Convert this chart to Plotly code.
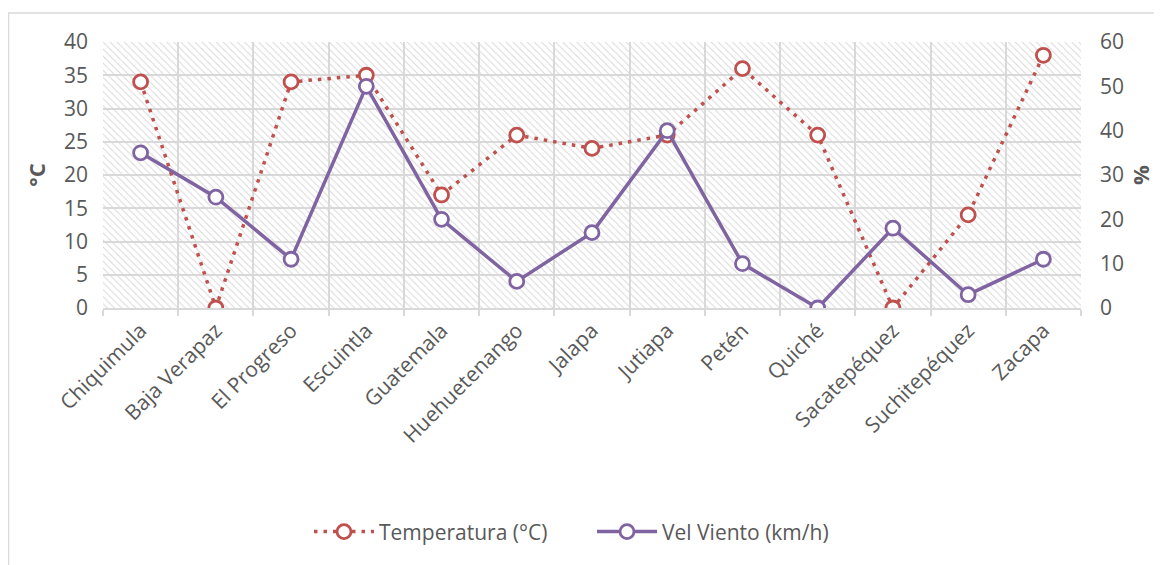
import plotly.graph_objects as go

departamentos = ["Chiquimula", "Baja Verapaz", "El Progreso", "Escuintla", "Guatemala",
                 "Huehuetenango", "Jalapa", "Jutiapa", "Petén", "Quiché",
                 "Sacatepéquez", "Suchitepéquez", "Zacapa"]
temperatura = [34, 0, 34, 35, 17, 26, 24, 26, 36, 26, 0, 14, 38]
vel_viento = [35, 25, 11, 50, 20, 6, 17, 40, 10, 0, 18, 3, 11]

y_left_max = 40
y_right_max = 60

RED = "#C0504D"
PURPLE = "#8064A2"
GRID = "#D9D9D9"
TXT = "#595959"
FONT = "Open Sans"
FS = 21

fig = go.Figure()

# hatched plot-area background
fig.add_trace(go.Bar(
    x=[departamentos[len(departamentos) // 2]], y=[y_left_max], width=len(departamentos),
    marker=dict(color="rgba(0,0,0,0)", line=dict(width=0),
                pattern=dict(shape="\\", fgcolor="#D6D6D6", bgcolor="rgba(0,0,0,0)",
                             size=5, solidity=0.18, fillmode="replace")),
    showlegend=False, hoverinfo="skip", yaxis="y"))

fig.add_trace(go.Scatter(
    x=departamentos, y=temperatura, name="Temperatura (°C)", mode="lines+markers",
    line=dict(color=RED, width=3.5, dash="3.5px,6px"),
    marker=dict(symbol="circle", size=14, color="white", line=dict(color=RED, width=2.8)),
    yaxis="y"))

fig.add_trace(go.Scatter(
    x=departamentos, y=vel_viento, name="Vel Viento (km/h)", mode="lines+markers",
    line=dict(color=PURPLE, width=3.5),
    marker=dict(symbol="circle", size=14, color="white", line=dict(color=PURPLE, width=2.8)),
    yaxis="y2"))

fig.update_layout(
    width=1154, height=557,
    margin=dict(l=95, r=81, t=34, b=257),
    paper_bgcolor="white", plot_bgcolor="white",
    font=dict(family=FONT, size=FS, color=TXT),
    bargap=0,
    xaxis=dict(type="category", categoryorder="array", categoryarray=departamentos,
               range=[-0.5, len(departamentos) - 0.5],
               tickson="boundaries", ticks="outside", ticklen=6, tickcolor=GRID, tickwidth=2,
               showgrid=True, gridcolor=GRID, gridwidth=2,
               showline=True, linecolor=GRID, linewidth=2,
               tickangle=-45, tickfont=dict(size=FS, color=TXT, family=FONT)),
    yaxis=dict(range=[0, y_left_max], dtick=5, showgrid=True, gridcolor=GRID, gridwidth=2,
               zeroline=False, showline=False, ticks="", ticklabelstandoff=14,
               tickfont=dict(size=FS, color=TXT, family=FONT),
               title=dict(text="<b>°C</b>", font=dict(size=22, color=TXT, family=FONT), standoff=12)),
    yaxis2=dict(range=[0, y_right_max], dtick=10, overlaying="y", side="right",
                showgrid=False, zeroline=False, showline=False, ticks="", ticklabelstandoff=18,
                tickfont=dict(size=FS, color=TXT, family=FONT),
                title=dict(text="<b>%</b>", font=dict(size=22, color=TXT, family=FONT), standoff=10)),
    legend=dict(orientation="h", x=0.5, xanchor="center", y=-0.842, yanchor="middle",
                font=dict(size=FS, color=TXT, family=FONT), itemwidth=60,
                entrywidth=208, entrywidthmode="pixels",
                traceorder="normal", bgcolor="rgba(0,0,0,0)"),
    shapes=[dict(type="rect", xref="paper", yref="paper",
                 x0=(8.5 - 103) / 978, x1=(1180 - 103) / 978,
                 y0=(308 - 600) / 266, y1=(308 - 13) / 266,
                 line=dict(color=GRID, width=1.5), fillcolor="rgba(0,0,0,0)", layer="below")],
)

fig.write_html("out.html")
